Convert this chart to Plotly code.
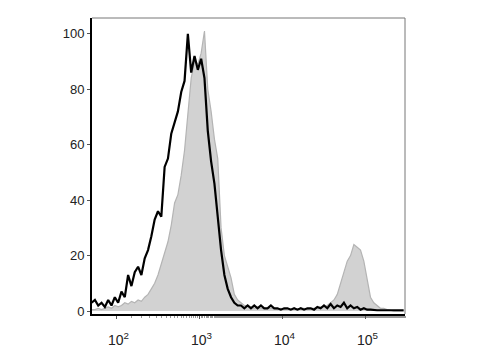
import plotly.graph_objects as go

# bin centres (log10 of fluorescence)
log_pos = [1.70, 1.74, 1.78, 1.82, 1.86, 1.90, 1.94, 1.98, 2.02, 2.06,
           2.10, 2.14, 2.18, 2.22, 2.26, 2.30, 2.34, 2.38, 2.42, 2.46,
           2.50, 2.54, 2.58, 2.62, 2.66, 2.70, 2.74, 2.78, 2.82, 2.86,
           2.90, 2.94, 2.98, 3.02, 3.06, 3.10, 3.14, 3.18, 3.22, 3.26,
           3.30, 3.34, 3.38, 3.42, 3.46, 3.50, 3.54, 3.58, 3.62, 3.66,
           3.70, 3.74, 3.78, 3.82, 3.86, 3.90, 3.94, 3.98, 4.02, 4.06,
           4.10, 4.14, 4.18, 4.22, 4.26, 4.30, 4.34, 4.38, 4.42, 4.46,
           4.50, 4.54, 4.58, 4.62, 4.66, 4.70, 4.74, 4.78, 4.82, 4.86,
           4.90, 4.94, 4.98, 5.02, 5.06, 5.10, 5.14, 5.18, 5.22, 5.26,
           5.30, 5.34, 5.38, 5.42, 5.46]

# stained sample (black line), % of max
black_vals = [3, 4, 2, 3, 1.5, 4, 2, 5, 3, 7,
              5, 13, 9, 14, 16, 13, 19, 22, 27, 33,
              36, 34, 52, 55, 64, 68, 72, 79, 83, 100,
              86, 92, 87, 91, 84, 65, 54, 46, 34, 22,
              13, 8, 5, 3, 2, 2, 1, 2, 1, 2,
              1, 2, 1, 1, 2, 1, 1, 0.5, 1, 1,
              0.5, 1, 0.5, 1, 0.5, 1, 1, 0.5, 1.5, 1,
              2, 1, 2.5, 1, 2, 1.5, 3, 1, 2, 1,
              1.5, 0.5, 1, 0.5, 0.5, 0.3, 0.3, 0.3, 0.3, 0.3,
              0.3, 0.3, 0.3, 0.3, 0.3]

# control (gray filled), % of max
gray_vals = [0.5, 0.5, 1, 0.5, 1, 1.5, 1, 2, 1.5, 2,
             3, 2.5, 3.5, 3, 4, 3.5, 5, 6, 8, 10,
             13, 17, 21, 25, 31, 39, 42, 49, 58, 70,
             84, 90, 89, 93, 101, 80, 72, 62, 55, 30,
             20, 16, 12, 6, 4, 3, 2, 2, 1.5, 1,
             1.5, 1, 1, 1, 1, 1, 0.5, 1, 0.5, 1,
             0.5, 1, 0.5, 1, 1, 0.5, 1, 1, 1, 1.5,
             1.5, 2, 3, 4, 6, 10, 14, 18, 20, 24,
             23, 22, 18, 12, 5, 3, 2, 1, 1, 0.5,
             0.3, 0, 0, 0, 0]

x_vals = [10 ** v for v in log_pos]

y_ticks = [0, 20, 40, 60, 80, 100]
x_ticks = [100, 1000, 10000, 100000]
x_tick_text = ["\u00a010<sup>2</sup>", "\u00a010<sup>3</sup>",
               "\u00a010<sup>4</sup>", "\u00a010<sup>5</sup>"]

fig = go.Figure()
fig.add_trace(go.Scatter(
    x=x_vals, y=gray_vals, mode="lines", fill="tozeroy",
    line=dict(color="#b4b4b4", width=1.2), fillcolor="#d2d2d2",
    hoverinfo="skip", showlegend=False))
fig.add_trace(go.Scatter(
    x=x_vals, y=black_vals, mode="lines",
    line=dict(color="#000000", width=2.2),
    hoverinfo="skip", showlegend=False))

fig.update_layout(
    width=480, height=360,
    margin=dict(l=92, r=75, t=18, b=40),
    paper_bgcolor="white", plot_bgcolor="white",
    font=dict(family="Liberation Sans, Arial, sans-serif", color="#222222"),
    xaxis=dict(type="log", range=[1.705, 5.476], tickvals=x_ticks,
               ticktext=x_tick_text, showgrid=False, zeroline=False,
               showline=True, linecolor="#000000", linewidth=2,
               ticks="outside", ticklen=3, tickcolor="#555555",
               tickfont=dict(size=14), ticklabelstandoff=9,
               minor=dict(ticks="outside", ticklen=2, tickcolor="#999999",
                          showgrid=False)),
    yaxis=dict(range=[-1.06, 105.7], tickvals=y_ticks, showgrid=False,
               zeroline=False, showline=True, linecolor="#000000",
               linewidth=2, ticks="outside", ticklen=3, tickcolor="#555555",
               tickfont=dict(size=13), ticklabelstandoff=0),
    shapes=[
        dict(type="line", xref="paper", yref="paper", x0=0, x1=1, y0=1, y1=1,
             line=dict(color="#777777", width=1)),
        dict(type="line", xref="paper", yref="paper", x0=1, x1=1, y0=0, y1=1,
             line=dict(color="#777777", width=1)),
    ],
)

fig.write_html("out.html")
